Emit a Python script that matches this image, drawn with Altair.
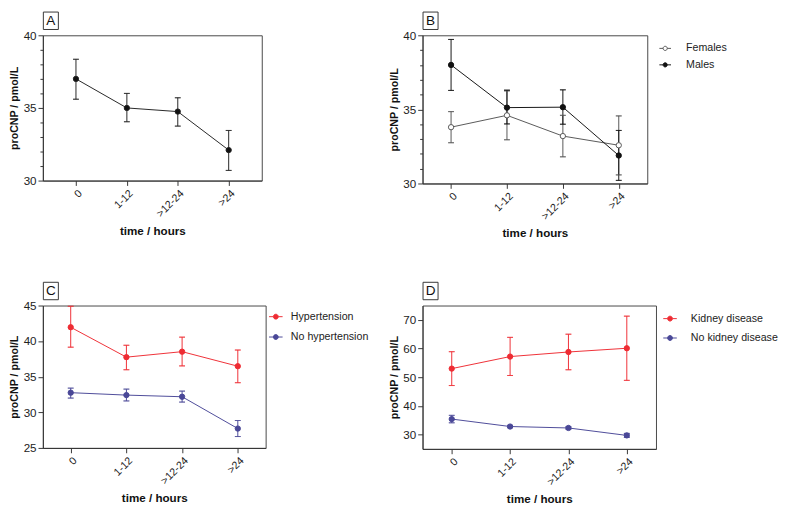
import altair as alt
import pandas as pd

TIME = ["0", "1-12", ">12-24", ">24"]

# Panel A: all patients
A_MEAN = [37.0, 35.0, 34.75, 32.1]
A_LOW = [35.6, 34.05, 33.75, 30.7]
A_HIGH = [38.35, 36.0, 35.7, 33.45]

# Panel B: sex
B_NAMES = ["Females", "Males"]
F_MEAN = [33.8, 34.6, 33.2, 32.58]
F_LOW = [32.75, 32.95, 31.8, 30.58]
F_HIGH = [34.85, 36.25, 34.6, 34.56]
M_MEAN = [38.0, 35.12, 35.15, 31.89]
M_LOW = [36.28, 34.02, 34.0, 30.21]
M_HIGH = [39.72, 36.3, 36.32, 33.58]

# Panel C: hypertension
C_NAMES = ["Hypertension", "No hypertension"]
HYP_MEAN = [41.95, 37.75, 38.52, 36.48]
HYP_LOW = [39.15, 35.98, 36.52, 34.16]
HYP_HIGH = [44.9, 39.42, 40.56, 38.75]
NOHYP_MEAN = [32.76, 32.42, 32.19, 27.72]
NOHYP_LOW = [32.0, 31.6, 31.44, 26.6]
NOHYP_HIGH = [33.4, 33.26, 32.98, 28.85]

# Panel D: kidney disease
D_NAMES = ["Kidney disease", "No kidney disease"]
KID_MEAN = [53.0, 57.2, 58.8, 60.1]
KID_LOW = [47.1, 50.6, 52.6, 48.9]
KID_HIGH = [58.9, 63.9, 65.0, 71.3]
NOKID_MEAN = [35.4, 32.8, 32.3, 29.7]
NOKID_LOW = [34.1, 32.4, 31.9, 29.0]
NOKID_HIGH = [36.7, 33.2, 32.7, 30.4]

FONT = "Liberation Sans"
RED = "#ee2c33"
BLUE = "#4a4897"
SYM = "M-1,0L-0.36,0M0.36,0L1,0M0.36,0A0.36,0.36,0,1,1,-0.36,0A0.36,0.36,0,1,1,0.36,0Z"


def make_df(series):
    rows = []
    for name, (mean, low, high) in series.items():
        for t, m, l, h in zip(TIME, mean, low, high):
            rows.append({"time": t, "series": name, "mean": m, "low": l, "high": h})
    return pd.DataFrame(rows)


def panel(letter, series, names, strokes, fills, ydomain, yvalues, width, height,
          xpad, legend=None):
    df = make_df(series)
    x = alt.X("time:N", sort=TIME,
              scale=alt.Scale(type="point", padding=xpad),
              axis=alt.Axis(title="time / hours", labelAngle=-45))
    yaxis = alt.Axis(
        title="proCNP / pmol/L",
        values=yvalues,
        labelExpr="datum.value % 5 === 0 ? datum.label : ''",
        tickSize={"condition": {"test": "datum.value % 5 === 0", "value": 5}, "value": 3},
    )
    ysc = alt.Scale(domain=ydomain, nice=False, zero=False)
    leg = None
    if legend:
        lx, ly, ssize, rowpad, loff = legend
        leg = alt.Legend(
            title=None, orient="none", legendX=width + lx, legendY=ly,
            symbolType=SYM, symbolSize=ssize, symbolStrokeWidth=1,
            symbolOpacity=1, rowPadding=rowpad, labelOffset=loff,
        )
    stroke = alt.Stroke("series:N", scale=alt.Scale(domain=names, range=strokes), legend=leg)
    fill = alt.Fill("series:N", scale=alt.Scale(domain=names, range=fills), legend=leg)
    base = alt.Chart(df)
    rule = base.mark_rule(strokeWidth=1).encode(
        x=x, y=alt.Y("low:Q", scale=ysc, axis=yaxis), y2="high:Q", stroke=stroke)
    tlow = base.mark_tick(size=6, thickness=0.01, filled=False, strokeWidth=1).encode(
        x=x, y=alt.Y("low:Q", scale=ysc, axis=yaxis), stroke=stroke)
    thigh = base.mark_tick(size=6, thickness=0.01, filled=False, strokeWidth=1).encode(
        x=x, y=alt.Y("high:Q", scale=ysc, axis=yaxis), stroke=stroke)
    line = base.mark_line(strokeWidth=1).encode(
        x=x, y=alt.Y("mean:Q", scale=ysc, axis=yaxis), stroke=stroke)
    point = base.mark_point(size=30, strokeWidth=1, opacity=1).encode(
        x=x, y=alt.Y("mean:Q", scale=ysc, axis=yaxis), stroke=stroke, fill=fill)
    lab = alt.Chart(pd.DataFrame({"label": [letter]}))
    box = lab.mark_rect(fill="white", stroke="#333333", strokeWidth=1).encode(
        x=alt.value(0.5), x2=alt.value(16), y=alt.value(-24), y2=alt.value(-6))
    txt = lab.mark_text(fontSize=14, font=FONT, color="#111111").encode(
        x=alt.value(8.25), y=alt.value(-14.5), text="label:N")
    return alt.layer(rule, tlow, thigh, line, point, box, txt).properties(
        width=width, height=height)


pA = panel("A", {"All": (A_MEAN, A_LOW, A_HIGH)}, ["All"], ["#222222"], ["#111111"],
           [30, 40], list(range(30, 41)), 226, 150, 0.65)
pB = panel("B", {"Females": (F_MEAN, F_LOW, F_HIGH), "Males": (M_MEAN, M_LOW, M_HIGH)},
           B_NAMES, ["#555555", "#111111"], ["#ffffff", "#111111"],
           [30, 40], list(range(30, 41)), 232, 153, 0.51, (12, 7, 144, 5, 15))
pC = panel("C", {"Hypertension": (HYP_MEAN, HYP_LOW, HYP_HIGH),
                 "No hypertension": (NOHYP_MEAN, NOHYP_LOW, NOHYP_HIGH)},
           C_NAMES, [RED, BLUE], [RED, BLUE],
           [25, 45], [25, 30, 35, 40, 45], 230, 147, 0.5, (3, 4, 196, 8, 8))
pD = panel("D", {"Kidney disease": (KID_MEAN, KID_LOW, KID_HIGH),
                 "No kidney disease": (NOKID_MEAN, NOKID_LOW, NOKID_HIGH)},
           D_NAMES, [RED, BLUE], [RED, BLUE],
           [25, 75], [30, 40, 50, 60, 70], 241, 148, 0.5, (7, 6, 196, 7, 14))

chart = alt.concat(pA, pB, pC, pD, columns=2, spacing={"row": 43, "column": 18}).properties(
    padding={"left": 0, "top": -5, "right": 0, "bottom": 0}, align="each"
).resolve_scale(
    stroke="independent", fill="independent"
).resolve_legend(
    stroke="independent", fill="independent"
).configure(font=FONT).configure_view(
    stroke="#444444", strokeWidth=1
).configure_axis(
    labelFont=FONT, titleFont=FONT, labelFontSize=12, titleFontSize=11,
    titleFontWeight="bold", domainColor="#333333", tickColor="#333333",
    labelColor="#222222", titleColor="#111111", grid=False, titlePadding=4
).configure_axisX(
    labelFontSize=11, titleFontSize=12, titlePadding=7
).configure_legend(
    labelFont=FONT, labelFontSize=11, labelColor="#222222", padding=0
)

chart.save("out.html", embed_options={"renderer": "svg", "actions": False})
